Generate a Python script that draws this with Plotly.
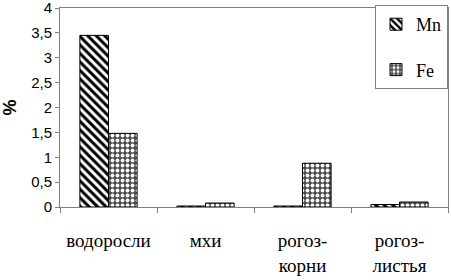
import plotly.graph_objects as go

categories = ["водоросли", "мхи", "рогоз-<br>корни", "рогоз-<br>листья"]
mn_values = [3.45, 0.02, 0.02, 0.05]
fe_values = [1.48, 0.08, 0.88, 0.10]
y_ticks = [0, 0.5, 1, 1.5, 2, 2.5, 3, 3.5, 4]
y_tick_labels = ["0", "0,5", "1", "1,5", "2", "2,5", "3", "3,5", "4"]

SERIF = "Liberation Serif, DejaVu Serif, serif"
SANS = "Liberation Sans"

fig = go.Figure()
fig.add_trace(go.Bar(
    x=categories, y=mn_values, name="Mn", legendgroup="Mn",
    marker=dict(color="white", line=dict(color="black", width=1),
                pattern=dict(shape="\\", fgcolor="black", bgcolor="white",
                             size=6, solidity=0.5, fillmode="replace")),
))
fig.add_trace(go.Bar(
    x=categories, y=fe_values, name="Fe", legendgroup="Fe",
    marker=dict(color="#4a4a4a", line=dict(color="black", width=1),
                pattern=dict(shape=".", fgcolor="white", bgcolor="#4a4a4a",
                             size=5, solidity=0.45, fillmode="replace")),
))

fig.update_layout(
    width=451, height=280,
    margin=dict(l=60, r=3, t=8, b=73, autoexpand=False),
    paper_bgcolor="white", plot_bgcolor="white",
    barmode="group", bargap=0.41, bargroupgap=0,
    font=dict(family=SANS, size=15, color="black"),
    legend=dict(x=1.0, y=1.015, xanchor="right", yanchor="top",
                bordercolor="#808080", borderwidth=1, bgcolor="white",
                font=dict(family=SERIF, size=18),
                tracegroupgap=19, itemwidth=30),
    showlegend=True,
)
fig.update_xaxes(
    showline=True, linecolor="#808080", linewidth=1, mirror=True,
    ticks="outside", tickson="boundaries", ticklen=5, tickcolor="#808080",
    tickfont=dict(family=SERIF, size=19), tickangle=0,
    ticklabelstandoff=16, automargin=False,
)
fig.update_yaxes(
    range=[0, 4], tickvals=y_ticks, ticktext=y_tick_labels,
    showline=True, linecolor="#808080", linewidth=1, mirror=True,
    ticks="outside", ticklen=4, tickcolor="#808080",
    showgrid=False, zeroline=False, automargin=False,
    ticklabeloverflow="allow",
    title=dict(text="<b>%</b>", font=dict(size=18), standoff=10),
)

fig.write_html("out.html", config={"displayModeBar": False},
               post_script="document.body.style.margin='0';document.body.style.padding='0';")
